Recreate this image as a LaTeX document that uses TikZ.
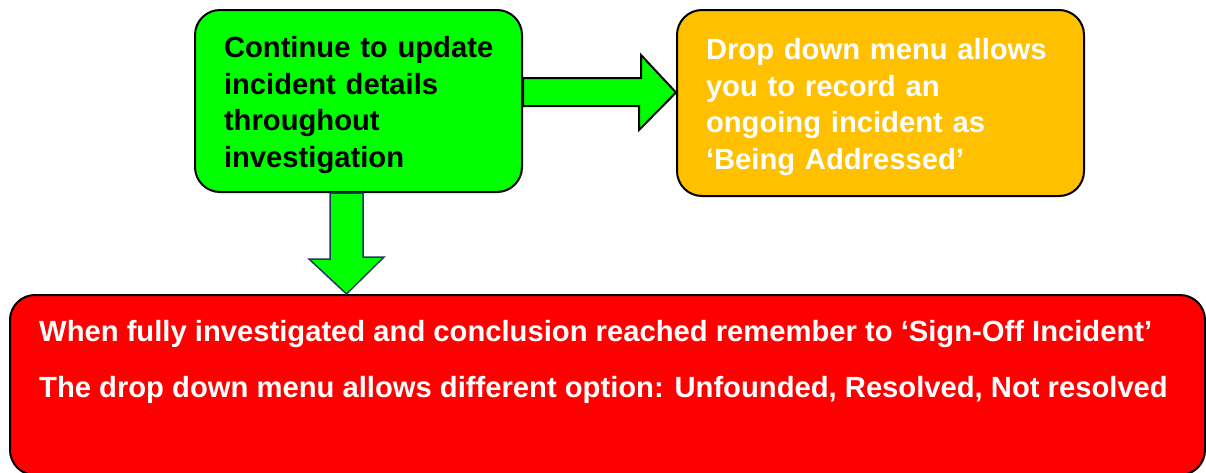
\documentclass[tikz,border=0pt]{standalone}
\usepackage{fontspec}
\setmainfont{Liberation Sans}
\usetikzlibrary{calc}

\definecolor{boxgreen}{HTML}{00FF00}
\definecolor{boxorange}{HTML}{FFC000}
\definecolor{boxred}{HTML}{FF0000}
\definecolor{arrownavy}{HTML}{1F3864}

\newcommand{\toppad}{\rule{0pt}{29pt}}

\tikzset{
  box/.style={draw=black, line width=2pt, rounded corners=25pt, inner xsep=29pt, inner ysep=0pt,
    align=left, font=\fontsize{29.2}{36.4}\selectfont\bfseries},
  blockarrow/.style={fill=boxgreen, line join=miter}
}

\begin{document}
\begin{tikzpicture}[x=1pt,y=-1pt]
\useasboundingbox (0,0) rectangle (1206,472);

%boxes
\node[box, fill=boxgreen, text=black, text width=269pt, minimum height=182pt] (cont) at (358.5,101)
  {\toppad\hbox{Continue to update}\\incident details\\throughout\\investigation};
\node[box, fill=boxorange, text=white, text width=349pt, minimum height=186pt] (drop) at (880.5,103)
  {\toppad Drop down menu allows\\you to record an\\ongoing incident as\\‘Being Addressed’};
\node[box, fill=boxred, minimum width=1195pt, minimum height=180pt] (signoff) at (607.5,385) {};
\node[anchor=north west, inner sep=0pt, text=white, align=left, font=\fontsize{29.2}{36.4}\selectfont\bfseries]
  (signtext) at ($(signoff.north west)+(30,26)$)
  {When fully investigated and conclusion reached remember to ‘Sign-Off Incident’\\[19.5pt]
   The drop down menu allows different option: Unfounded, Resolved, Not resolved};

%arrow right
\coordinate (rtip) at ($(drop.west)+(0,-10.5)$);
\draw[blockarrow, draw=black, line width=2pt]
  ($(cont.east)+(0,-23)$) -- ++(118,0) -- ++(0,-23) -- (rtip) -- ++(-37,37.5) -- ++(0,-24) -- ($(cont.east)+(0,5)$) -- cycle;

%arrow down
\coordinate (dtip) at ($(cont.south)+(-12,0)$);
\coordinate (dtip) at (dtip |- signoff.north);
\draw[blockarrow, draw=arrownavy, line width=1.5pt]
  ($(cont.south)+(-28.5,0)$) -- ++(0,66) -- ++(-21,0) -- (dtip) -- ++(37.5,-37) -- ++(-21,0) -- ($(cont.south)+(4.5,0)$) -- cycle;

\end{tikzpicture}
\end{document}
